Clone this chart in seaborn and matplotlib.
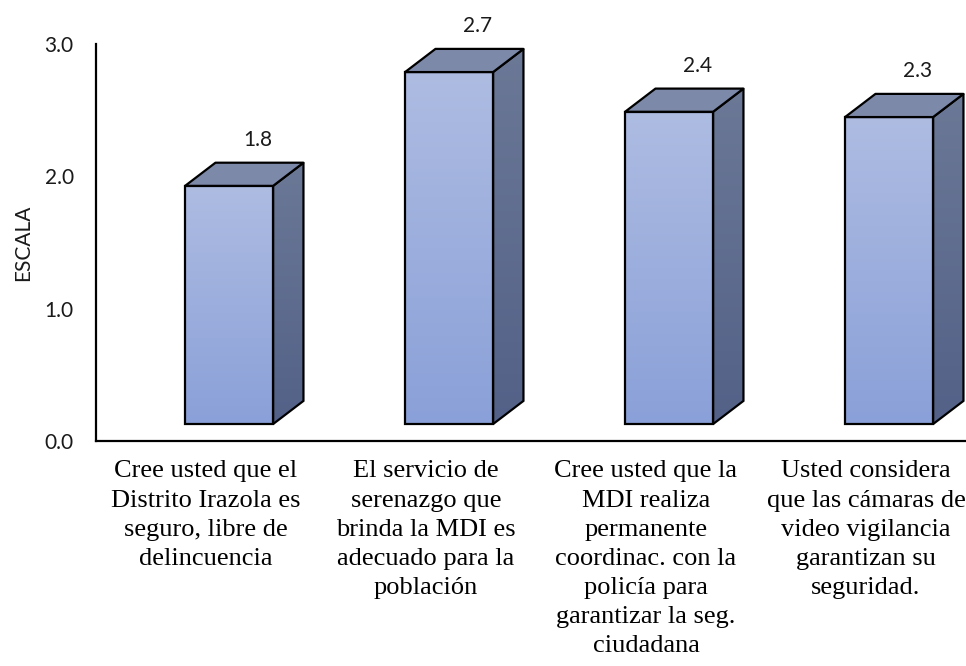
import numpy as np
import pandas as pd
import seaborn as sns
import matplotlib.pyplot as plt
from matplotlib.patches import Polygon
from matplotlib.colors import LinearSegmentedColormap

# datos
preguntas = [
    "Cree usted que el\nDistrito Irazola es\nseguro, libre de\ndelincuencia",
    "El servicio de\nserenazgo que\nbrinda la MDI es\nadecuado para la\npoblación",
    "Cree usted que la\nMDI realiza\npermanente\ncoordinac. con la\npolicía para\ngarantizar la seg.\nciudadana",
    "Usted considera\nque las cámaras de\nvideo vigilancia\ngarantizan su\nseguridad.",
]
valores = [1.8, 2.66, 2.36, 2.32]
ticks_y = [0, 1, 2, 3]

sns.set_theme(style="white")
plt.rcParams['font.family'] = ['Lato', 'DejaVu Sans']

fig = plt.figure(figsize=(9.66, 6.66), dpi=100)
ax = fig.add_axes([96/966, 225/666, 880/966, 397/666])

df = pd.DataFrame({"pregunta": preguntas, "valor": valores})
sns.barplot(data=df, x="pregunta", y="valor", width=0.4, color="#9aacdc",
            edgecolor="black", linewidth=1.6, ax=ax)

# efecto 3D tipo Excel
piso = 0.128     # la cara frontal arranca un poco sobre el eje
desp = 0.105     # barras corridas a la derecha de la categoria
dx, dy = 0.138, 0.175
frente = LinearSegmentedColormap.from_list("frente", ["#8aa0d8", "#aebce2"])
lateral = LinearSegmentedColormap.from_list("lateral", ["#536188", "#6b7896"])
grad = np.linspace(0, 1, 256).reshape(-1, 1)

for i, p in enumerate(ax.patches):
    p.set_x(p.get_x() + desp)
    p.set_y(piso)
    x0, x1 = p.get_x(), p.get_x() + p.get_width()
    y0, y1 = piso, piso + p.get_height()
    p.set_facecolor("none")
    p.set_zorder(4)
    im = ax.imshow(grad, extent=[x0, x1, y0, y1], origin="lower", aspect="auto",
                   cmap=frente, zorder=2)
    im.set_clip_path(p)

    lado = Polygon([(x1, y0), (x1 + dx, y0 + dy), (x1 + dx, y1 + dy), (x1, y1)],
                   closed=True, facecolor="none", edgecolor="black", lw=1.6, zorder=4)
    ax.add_patch(lado)
    im2 = ax.imshow(grad, extent=[x1, x1 + dx, y0, y1 + dy], origin="lower",
                    aspect="auto", cmap=lateral, zorder=2)
    im2.set_clip_path(lado)

    techo = Polygon([(x0, y1), (x0 + dx, y1 + dy), (x1 + dx, y1 + dy), (x1, y1)],
                    closed=True, facecolor="#7d89a9", edgecolor="black", lw=1.6,
                    zorder=4, joinstyle="round")
    ax.add_patch(techo)

    ax.text(i + 0.236, y1 + dy + 0.17, f"{valores[i]:.1f}", ha="center", va="center",
            fontsize=15, color="#1a1a1a", clip_on=False)

ax.set_xlim(-0.5, 3.5)
ax.set_ylim(0, 3)
ax.set_yticks(ticks_y)
ax.set_yticklabels([f"{t:.1f}" for t in ticks_y])
ax.tick_params(axis="y", length=0, pad=16, labelsize=15, labelcolor="#1a1a1a")
ax.tick_params(axis="x", length=0, pad=14, labelsize=19, labelcolor="black")
for lab in ax.get_xticklabels():
    lab.set_fontfamily("Liberation Serif")
    lab.set_linespacing(1.42)

ax.set_xlabel("")
ax.set_ylabel("ESCALA", fontsize=15, color="#1a1a1a")
ax.yaxis.set_label_coords(-0.072, 0.5)

for s in ["top", "right"]:
    ax.spines[s].set_visible(False)
for s in ["left", "bottom"]:
    ax.spines[s].set_color("black")
    ax.spines[s].set_linewidth(1.6)

fig.savefig("out.png", dpi=100)
